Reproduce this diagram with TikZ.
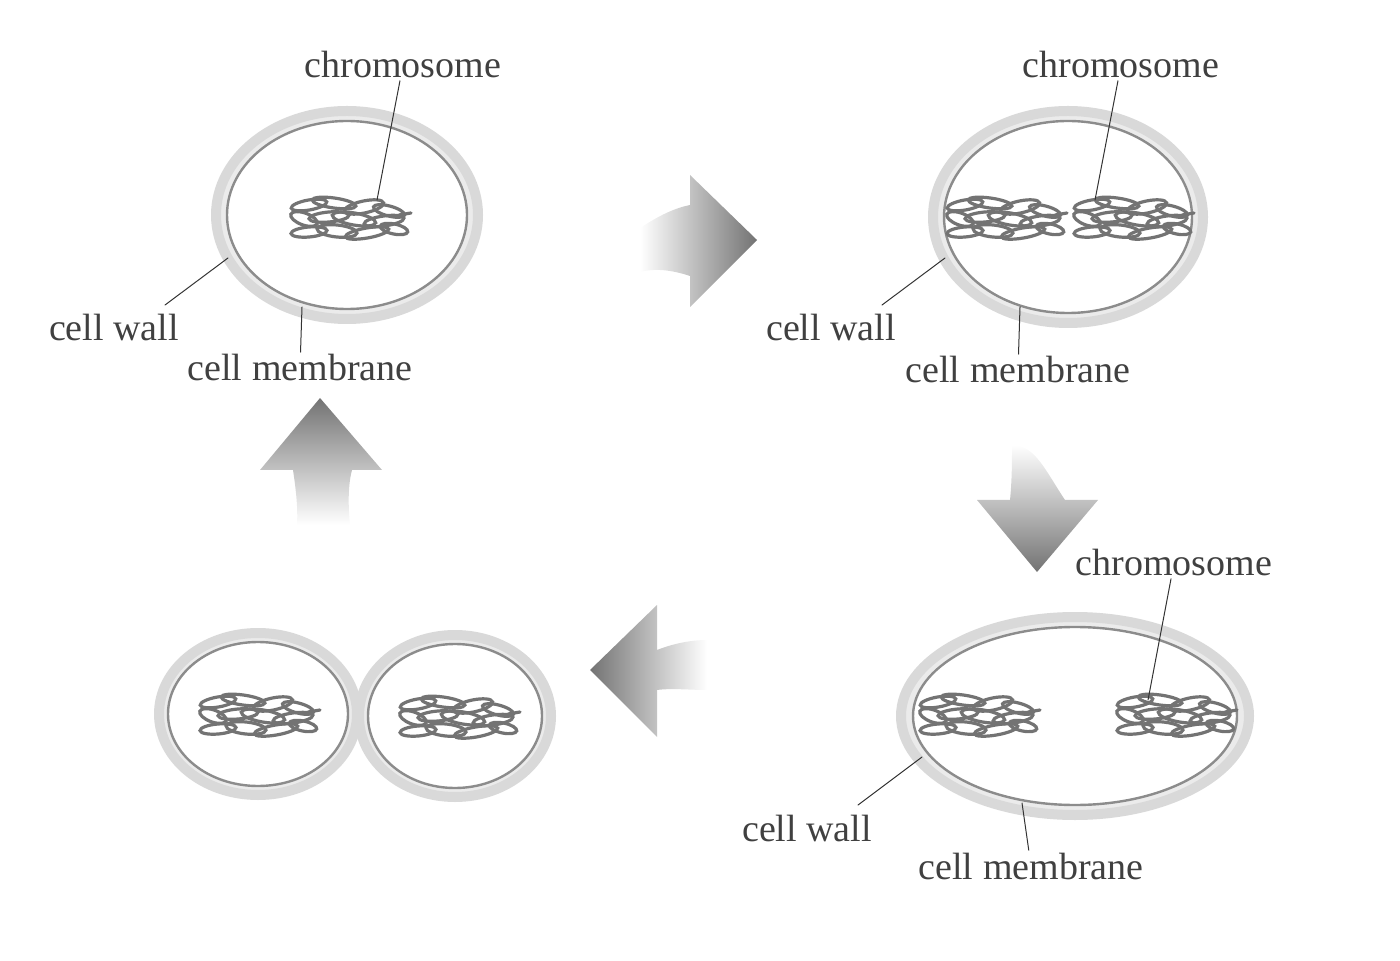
\documentclass[tikz,border=0pt]{standalone}
\usepackage{fontspec}
\setmainfont{Liberation Serif}
\usetikzlibrary{positioning}
\begin{document}
\begin{tikzpicture}[x=0.5pt,y=-0.5pt,line cap=round]
    \tikzstyle{lbl}=[font=\fontsize{19}{22}\selectfont,text=black!75,inner sep=1pt]
    \tikzstyle{ptr}=[draw=black!80,line width=0.5pt]
    \tikzstyle{wall}=[draw=black!15,line width=5pt,fill=black!8]
    \tikzstyle{membrane}=[draw=black!45,line width=1.2pt,fill=white]
    \tikzstyle{dna}=[draw=black!55,line width=1.6pt]
    \tikzstyle{shaft}=[left color=white,right color=black!55]
    \tikzset{chromo/.pic={
        \foreach \a/\b/\r/\w/\t in {-40/-12/18/5/10,-15/-14/22/5/-8,15/-10/20/6/12,40/-6/16/5/-15,
            -45/2/14/6/-20,-20/0/20/5/5,5/2/22/6/-10,35/4/20/5/8,
            -40/15/18/5/5,-12/14/20/6/-6,18/16/22/5/10,45/12/14/5/-12}
            \draw[dna,rotate around={\t:(\a,\b)}] (\a,\b) ellipse [x radius=\r,y radius=\w];
        \draw[dna] (50,-2) -- (62,-4);
    }}
    \useasboundingbox (0,0) rectangle (1400,961);

    % Cell one
    \draw[wall] (347,215) ellipse [x radius=131,y radius=104];
    \draw[membrane] (347,215) ellipse [x radius=120,y radius=94];
    \pic at (349,217) {chromo};
    \node[lbl] (chr-1) at (403,65) {chromosome};
    \node[lbl] (cw-1) at (114,328) {cell wall};
    \node[lbl] (cm-1) at (300,368) {cell membrane};
    \coordinate (chr-1-e) at (377,200);
    \coordinate (cw-1-e) at (228,258);
    \coordinate (cm-1-e) at (302,307);
    \draw[ptr] (chr-1) -- (chr-1-e);
    \draw[ptr] (165,305) -- (cw-1-e);
    \draw[ptr] (cm-1) -- (cm-1-e);

    % Cell two
    \draw[wall] (1068,217) ellipse [x radius=135,y radius=106];
    \draw[membrane] (1068,217) ellipse [x radius=124,y radius=96];
    \pic at (1005,217) {chromo};
    \pic at (1132,217) {chromo};
    \node[lbl] (chr-2) at (1121,65) {chromosome};
    \node[lbl] (cw-2) at (831,328) {cell wall};
    \node[lbl] (cm-2) at (1018,370) {cell membrane};
    \coordinate (chr-2-e) at (1095,200);
    \coordinate (cw-2-e) at (945,258);
    \coordinate (cm-2-e) at (1020,307);
    \draw[ptr] (chr-2) -- (chr-2-e);
    \draw[ptr] (882,305) -- (cw-2-e);
    \draw[ptr] (cm-2) -- (cm-2-e);

    % Cell three
    \draw[wall] (1075,716) ellipse [x radius=174,y radius=99];
    \draw[membrane] (1075,716) ellipse [x radius=162,y radius=89];
    \pic at (978,714) {chromo};
    \pic at (1175,714) {chromo};
    \node[lbl] (chr-3) at (1174,563) {chromosome};
    \node[lbl] (cw-3) at (807,828) {cell wall};
    \node[lbl] (cm-3) at (1031,866) {cell membrane};
    \coordinate (chr-3-e) at (1148,700);
    \coordinate (cw-3-e) at (922,757);
    \coordinate (cm-3-e) at (1022,803);
    \draw[ptr] (chr-3) -- (chr-3-e);
    \draw[ptr] (858,805) -- (cw-3-e);
    \draw[ptr] (cm-3) -- (cm-3-e);

    % Cell four
    \draw[wall] (258,714) ellipse [x radius=99,y radius=81];
    \draw[wall] (455,716) ellipse [x radius=96,y radius=81];
    \draw[membrane] (258,714) ellipse [x radius=90,y radius=72];
    \draw[membrane] (455,716) ellipse [x radius=87,y radius=72];
    \pic at (258,714) {chromo};
    \pic at (458,716) {chromo};

    % Arrows
    \shade[shaft] (640,228) .. controls (660,215) and (675,208) .. (690,205) -- (690,175)
        -- (757,240) -- (690,307) -- (690,276) .. controls (672,270) and (655,268) .. (640,272) -- cycle;
    \shade[shaft,shading angle=90,top color=white,bottom color=black!55] (1012,445) .. controls (1035,445) and (1045,470) .. (1065,500)
        -- (1098,500) -- (1037,572) -- (977,500) -- (1010,500) .. controls (1012,480) and (1012,460) .. (1012,445) -- cycle;
    \shade[left color=black!55,right color=white] (707,640) .. controls (690,640) and (672,644) .. (657,650) -- (657,605)
        -- (590,670) -- (657,737) -- (657,690) .. controls (672,688) and (690,690) .. (707,690) -- cycle;
    \shade[top color=black!55,bottom color=white] (350,525) .. controls (348,505) and (348,485) .. (352,470) -- (382,470)
        -- (320,398) -- (260,470) -- (293,470) .. controls (296,490) and (298,508) .. (297,525) -- cycle;
\end{tikzpicture}
\end{document}
